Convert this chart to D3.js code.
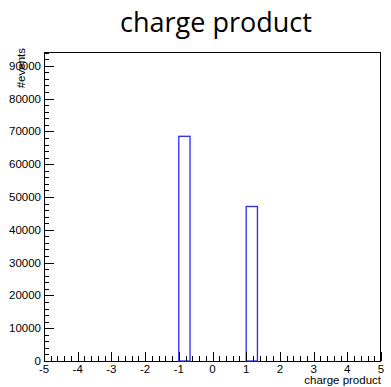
<!DOCTYPE html>
<html>
<head>
<meta charset="utf-8">
<script src="https://cdn.jsdelivr.net/npm/d3@7"></script>
<style>
  body { margin: 0; background: #fff; }
  svg text { font-family: "Liberation Sans", Arial, sans-serif; }
</style>
</head>
<body>
<svg id="chart" width="391" height="387"></svg>
<script>
// histogram of charge product, 30 bins from -5 to 5
var binLow = [-1, 1];
var binHigh = [-2 / 3, 4 / 3];
var counts = [68500, 47100];
var yTicks = [0, 10000, 20000, 30000, 40000, 50000, 60000, 70000, 80000, 90000];
var xTicks = [-5, -4, -3, -2, -1, 0, 1, 2, 3, 4, 5];

var svg = d3.select('#chart');
var padLeft = 44, padRight = 381, padTop = 52, padBottom = 361;

var xScale = d3.scaleLinear().domain([-5, 5]).range([padLeft, padRight]);
var yScale = d3.scaleLinear().domain([0, 94200]).range([padBottom, padTop]);

// title
svg.append('text')
  .attr('x', 216).attr('y', 32)
  .attr('text-anchor', 'middle')
  .style('font-family', '"Open Sans", "Noto Sans", sans-serif')
  .style('font-size', '27px')
  .text('charge product');

// frame
svg.append('rect')
  .attr('x', padLeft + 0.5).attr('y', padTop + 0.5)
  .attr('width', padRight - padLeft - 1).attr('height', padBottom - padTop)
  .attr('fill', 'none').attr('stroke', '#000').attr('stroke-width', 1);

// bars
svg.append('g').selectAll('rect')
  .data(counts)
  .enter().append('rect')
  .attr('x', (d, i) => xScale(binLow[i]))
  .attr('width', (d, i) => xScale(binHigh[i]) - xScale(binLow[i]))
  .attr('y', d => yScale(d))
  .attr('height', d => yScale(0) - yScale(d))
  .attr('fill', 'none').attr('stroke', '#2a2aee').attr('stroke-width', 1.3);

// y axis
var yAxis = svg.append('g').attr('transform', 'translate(' + padLeft + ',0)');
var yMinor = d3.range(0, 94200, 2000);
yAxis.selectAll('line.minor').data(yMinor).enter().append('line')
  .attr('x1', 0).attr('x2', 5)
  .attr('y1', d => Math.round(yScale(d)) + 0.5).attr('y2', d => Math.round(yScale(d)) + 0.5)
  .attr('stroke', '#000');
yAxis.selectAll('line.major').data(yTicks).enter().append('line')
  .attr('x1', 0).attr('x2', 10)
  .attr('y1', d => Math.round(yScale(d)) + 0.5).attr('y2', d => Math.round(yScale(d)) + 0.5)
  .attr('stroke', '#000');
yAxis.selectAll('text').data(yTicks).enter().append('text')
  .attr('x', -3).attr('y', d => yScale(d) + 4)
  .attr('text-anchor', 'end')
  .style('font-size', '11.5px')
  .text(d => d);

svg.append('text')
  .attr('transform', 'translate(25,' + (padTop - 4) + ') rotate(-90)')
  .attr('text-anchor', 'end')
  .style('font-size', '11.5px')
  .text('#events');

// x axis
var xAxis = svg.append('g').attr('transform', 'translate(0,' + padBottom + ')');
var xMinor = d3.range(-5, 5.001, 0.2);
xAxis.selectAll('line.minor').data(xMinor).enter().append('line')
  .attr('x1', d => Math.round(xScale(d)) + 0.5).attr('x2', d => Math.round(xScale(d)) + 0.5)
  .attr('y1', 0).attr('y2', -5)
  .attr('stroke', '#000');
xAxis.selectAll('line.major').data(xTicks).enter().append('line')
  .attr('x1', d => Math.round(xScale(d)) + 0.5).attr('x2', d => Math.round(xScale(d)) + 0.5)
  .attr('y1', 0).attr('y2', -9)
  .attr('stroke', '#000');
xAxis.selectAll('text').data(xTicks).enter().append('text')
  .attr('x', d => xScale(d)).attr('y', 12)
  .attr('text-anchor', 'middle')
  .style('font-size', '11.5px')
  .text(d => d);

svg.append('text')
  .attr('x', padRight).attr('y', 384)
  .attr('text-anchor', 'end')
  .style('font-size', '11.5px')
  .text('charge product');
</script>
</body>
</html>
